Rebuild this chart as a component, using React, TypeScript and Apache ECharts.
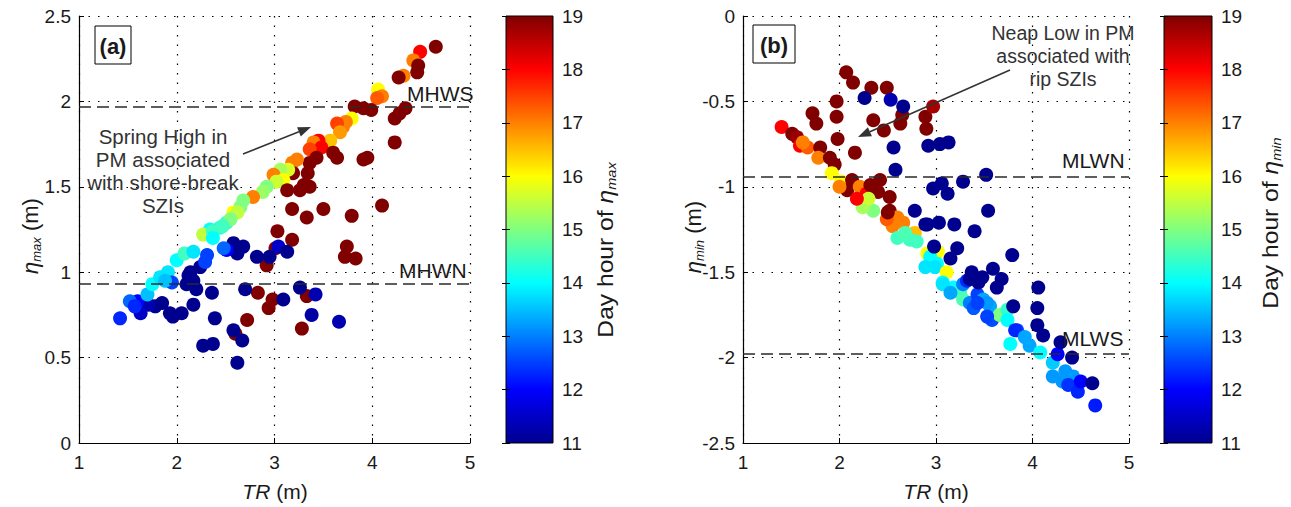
import { useEffect, useRef } from "react";
import * as echarts from "echarts";

// [TR (m), eta_max (m), day hour]
const pointsA: number[][] = [
  [4.65, 2.32, 19], [4.49, 2.29, 18], [4.42, 2.24, 17], [4.47, 2.21, 19], [4.46, 2.17, 19],
  [4.32, 2.15, 17], [4.27, 2.14, 19], [4.06, 2.07, 16], [4.10, 2.03, 17], [4.05, 2.02, 17.3],
  [4.34, 1.96, 19], [4.28, 1.93, 19], [4.23, 1.90, 19], [4.23, 1.76, 19], [3.99, 1.95, 19],
  [3.91, 1.96, 19], [3.82, 1.97, 19], [3.79, 1.90, 16], [3.73, 1.88, 17], [3.70, 1.85, 17],
  [3.64, 1.87, 17.5], [3.67, 1.82, 16.8], [3.95, 1.67, 19], [3.91, 1.66, 19], [3.57, 1.77, 16.5],
  [3.45, 1.77, 18], [3.40, 1.76, 17], [3.48, 1.73, 18], [3.36, 1.72, 17.5], [3.60, 1.70, 19],
  [3.64, 1.67, 19], [3.43, 1.67, 19], [3.36, 1.64, 19], [3.34, 1.58, 19], [3.23, 1.66, 17],
  [3.18, 1.64, 17], [3.19, 1.58, 19], [3.14, 1.60, 15.7], [3.06, 1.60, 15.3], [2.99, 1.57, 17],
  [3.09, 1.54, 16], [3.02, 1.53, 15.6], [2.92, 1.50, 15], [2.88, 1.47, 15.2], [2.78, 1.44, 17],
  [2.68, 1.42, 15], [2.65, 1.38, 15], [2.58, 1.35, 16], [2.62, 1.35, 15.5], [2.51, 1.29, 14.5],
  [2.55, 1.31, 15], [2.44, 1.26, 14.2], [2.34, 1.25, 14], [2.27, 1.22, 15.5], [2.37, 1.24, 14.5],
  [2.37, 1.20, 14], [2.47, 1.27, 14.5],
  [3.13, 1.48, 19], [3.26, 1.48, 19], [3.36, 1.50, 19], [3.30, 1.51, 19], [3.18, 1.37, 19],
  [3.33, 1.32, 19], [3.50, 1.37, 19], [3.79, 1.33, 19], [4.10, 1.39, 19], [3.03, 1.24, 19],
  [3.18, 1.19, 19], [3.01, 1.14, 19], [2.92, 1.04, 19], [3.74, 1.15, 19], [3.72, 1.09, 19],
  [3.83, 1.08, 19], [2.83, 0.88, 19], [2.98, 0.84, 19], [2.94, 0.79, 19], [3.33, 0.86, 19],
  [2.72, 0.72, 19], [2.60, 0.64, 19], [3.28, 0.67, 19],
  [2.58, 1.17, 11], [2.68, 1.15, 11], [2.62, 1.11, 11], [2.51, 1.13, 12], [2.82, 1.09, 11],
  [2.95, 1.09, 11], [3.04, 1.15, 11.5], [3.13, 1.12, 11], [3.26, 0.91, 11], [3.42, 0.87, 11.3],
  [3.09, 0.84, 11], [2.70, 0.90, 11], [2.36, 0.88, 11], [2.39, 0.73, 11], [3.38, 0.75, 11.2],
  [3.66, 0.71, 11.3], [2.58, 0.66, 11], [2.67, 0.60, 11], [2.27, 0.57, 11], [2.37, 0.58, 11],
  [2.62, 0.47, 11], [2.24, 1.03, 11], [2.14, 1.00, 11], [2.10, 0.93, 11], [2.17, 0.95, 11],
  [2.20, 0.90, 11], [2.17, 0.81, 11], [1.93, 0.76, 11], [2.05, 0.76, 11], [1.96, 0.74, 11],
  [1.85, 0.82, 11], [1.78, 0.80, 11], [1.71, 0.81, 11.3], [1.63, 0.76, 11.5], [1.60, 0.83, 12],
  [1.42, 0.73, 12.3], [1.52, 0.83, 12.8], [1.57, 0.80, 12.3], [2.12, 0.98, 11],
  [1.70, 0.87, 13.5], [1.75, 0.93, 14], [1.83, 0.97, 13.8], [1.91, 1.00, 13.8], [1.95, 0.94, 12.5],
  [2.00, 1.07, 14], [2.08, 1.11, 14.5], [2.17, 1.12, 13.8], [2.31, 1.10, 12.5], [2.29, 1.06, 12.5],
  [1.88, 0.95, 13.5], [2.48, 1.14, 12.8],
];

// [TR (m), eta_min (m), day hour]
const pointsB: number[][] = [
  [2.07, -0.33, 19], [2.14, -0.39, 19], [2.33, -0.42, 19], [2.49, -0.42, 19], [1.97, -0.50, 19],
  [1.97, -0.59, 19], [1.72, -0.57, 19], [1.76, -0.63, 19], [2.35, -0.61, 19], [2.46, -0.67, 19],
  [2.65, -0.58, 19], [2.63, -0.63, 19], [2.89, -0.59, 19], [2.97, -0.53, 18.7], [2.90, -0.66, 19],
  [1.98, -0.72, 19], [2.16, -0.80, 19], [1.40, -0.65, 18], [1.51, -0.69, 19], [1.56, -0.71, 18.8],
  [1.59, -0.76, 18], [1.67, -0.77, 17.3], [1.80, -0.77, 19], [1.78, -0.83, 17], [1.90, -0.83, 19],
  [1.95, -0.87, 19], [1.92, -0.92, 16], [2.02, -0.97, 16], [2.13, -0.96, 19], [2.08, -1.02, 19],
  [2.21, -1.00, 17], [2.28, -1.04, 18], [2.32, -0.99, 19], [2.42, -0.96, 19], [2.40, -1.03, 19],
  [2.52, -1.06, 19], [2.52, -1.14, 19], [2.60, -1.18, 17], [2.66, -1.21, 17], [2.55, -1.23, 17],
  [2.49, -1.19, 17.3], [2.50, -1.15, 19], [2.78, -1.27, 16.5], [2.28, -1.10, 15], [2.35, -1.14, 15],
  [2.24, -1.12, 15.3], [2.30, -1.07, 15.6], [2.18, -1.07, 18], [2.00, -1.00, 17], [1.62, -0.74, 17],
  [2.73, -1.31, 14.5], [2.60, -1.30, 14.5], [2.80, -1.32, 14.5], [2.68, -1.27, 14.6], [2.91, -1.39, 16],
  [3.02, -1.38, 16], [2.94, -1.41, 14], [2.89, -1.47, 13.8], [3.01, -1.45, 14], [2.99, -1.47, 13.8],
  [3.11, -1.50, 16], [3.07, -1.56, 14], [3.18, -1.59, 14], [3.07, -1.57, 13.8], [3.25, -1.62, 14.5],
  [3.28, -1.66, 14.6], [3.15, -1.62, 13.3], [3.28, -1.57, 13], [3.35, -1.68, 13], [3.39, -1.71, 12.7],
  [3.43, -1.63, 12.5], [3.49, -1.66, 13.3], [3.56, -1.70, 13.3], [3.53, -1.68, 13.2], [3.58, -1.78, 12.6],
  [3.66, -1.75, 15], [3.74, -1.72, 14.4], [3.74, -1.78, 14], [3.77, -1.92, 14], [3.84, -1.84, 12.5],
  [3.82, -1.84, 12.3], [3.92, -1.88, 13.3], [3.97, -1.93, 13.3], [4.08, -1.97, 14], [4.21, -2.03, 13.6],
  [4.34, -2.08, 13.2], [4.21, -2.11, 13.2], [4.31, -2.14, 13.2], [4.42, -2.11, 13.2], [4.37, -2.16, 12.4],
  [4.47, -2.20, 12.3], [4.50, -2.14, 12], [4.65, -2.28, 12.2], [4.26, -1.98, 12], [3.53, -1.76, 12.5],
  [3.32, -1.55, 12.3], [3.43, -1.68, 12.5],
  [2.26, -0.48, 11], [2.53, -0.49, 11.3], [2.66, -0.53, 11], [2.56, -0.77, 11], [2.58, -0.90, 11],
  [2.92, -0.76, 11], [3.04, -0.75, 11], [3.13, -0.74, 11], [2.97, -1.01, 11], [3.06, -0.98, 11],
  [3.12, -1.04, 11], [3.28, -0.97, 11], [3.52, -0.93, 11], [3.54, -1.14, 11], [2.78, -1.14, 11],
  [2.91, -1.22, 11], [3.03, -1.21, 11], [3.19, -1.22, 11], [3.40, -1.26, 11], [2.98, -1.35, 11],
  [3.22, -1.36, 11], [3.15, -1.42, 11], [3.79, -1.40, 11], [3.37, -1.50, 11], [3.48, -1.53, 11],
  [3.59, -1.48, 11], [3.68, -1.54, 11], [3.63, -1.59, 11], [4.06, -1.59, 11], [4.05, -1.71, 11],
  [3.80, -1.70, 11], [4.05, -1.81, 11], [4.11, -1.87, 11], [4.29, -1.91, 11], [4.41, -2.00, 11],
  [4.62, -2.15, 11], [3.44, -1.56, 11], [3.35, -1.54, 11], [2.89, -1.22, 11],
];

const trRange = [1, 5];
const etaMaxRange = [0, 2.5];
const etaMinRange = [-2.5, 0];
const hourRange = [11, 19];
const levelNamesA = ["MHWS", "MHWN"];
const levelValuesA = [1.967, 0.93];
const levelNamesB = ["MLWN", "MLWS"];
const levelValuesB = [-0.937, -1.98];
const noteA = ["Spring High in", "PM associated", "with shore-break", "SZIs"];
const noteB = ["Neap Low in PM", "associated with", "rip SZIs"];

const jet = ["#00008F", "#0000FF", "#0080FF", "#00FFFF", "#80FF80", "#FFFF00", "#FF8000", "#FF0000", "#800000"];

const FONT = "'Liberation Sans', Arial, Helvetica, sans-serif";
const TXT = "#1a1a1a";

function arrow(x1: number, y1: number, x2: number, y2: number) {
  const dx = x2 - x1, dy = y2 - y1;
  const len = Math.sqrt(dx * dx + dy * dy);
  const ux = dx / len, uy = dy / len;
  const bx = x2 - 13 * ux, by = y2 - 13 * uy;
  const nx = -uy, ny = ux;
  return [
    { type: "line", shape: { x1, y1, x2: bx, y2: by }, style: { stroke: "#333", lineWidth: 1.5 }, z: 50 },
    {
      type: "polygon",
      shape: { points: [[x2, y2], [bx + 5 * nx, by + 5 * ny], [bx - 5 * nx, by - 5 * ny]] },
      style: { fill: "#333" },
      z: 50,
    },
  ];
}

function panelAxes(gridIndex: number, yr: number[]) {
  const common = {
    gridIndex,
    type: "value",
    axisLine: { show: true, onZero: false, lineStyle: { color: "#000", width: 1.2 } },
    axisTick: { show: true, inside: true, length: 5, lineStyle: { color: "#000" } },
    splitLine: { show: true, lineStyle: { color: "#000", type: [1.5, 8], width: 1.2 } },
    axisLabel: { color: TXT, fontSize: 19, fontFamily: FONT },
  };
  return {
    x: { ...common, min: trRange[0], max: trRange[1], interval: 1, axisLabel: { ...common.axisLabel, margin: 10 } },
    y: { ...common, min: yr[0], max: yr[1], interval: 0.5, axisLabel: { ...common.axisLabel, margin: 8 } },
  };
}

function cbAxes(gridIndex: number) {
  const base = {
    gridIndex,
    type: "value",
    min: hourRange[0],
    max: hourRange[1],
    interval: 1,
    axisLine: { show: false },
    axisTick: { show: true, inside: true, length: 4, lineStyle: { color: "#000" } },
    splitLine: { show: false },
  };
  return [
    { ...base, position: "right", axisLabel: { color: TXT, fontSize: 19, fontFamily: FONT, margin: 9 } },
    { ...base, position: "left", axisLabel: { show: false } },
  ];
}

function levelLine(names: string[], values: number[]) {
  return {
    silent: true,
    symbol: ["none", "none"],
    label: { show: false },
    lineStyle: { color: "#2a2a2a", type: [12, 6], width: 1.6 },
    data: values.map((v, i) => ({ name: names[i], yAxis: v })),
  };
}

function vText(x: number, y: number, rich: string, scale = 1) {
  return {
    type: "text",
    x,
    y,
    rotation: Math.PI / 2,
    scaleX: scale,
    z: 50,
    style: {
      text: rich,
      align: "center",
      verticalAlign: "middle",
      fill: TXT,
      font: `22px ${FONT}`,
      rich: {
        n: { fontSize: 22, fontFamily: FONT, fill: TXT, lineHeight: 26 },
        e: { fontSize: 22, fontFamily: FONT, fontStyle: "italic", fill: TXT, lineHeight: 26 },
        s: { fontSize: 13, fontFamily: FONT, fontStyle: "italic", fill: TXT, lineHeight: 26, verticalAlign: "bottom" },
      },
    },
  };
}

export default function App() {
  const ref = useRef<HTMLDivElement>(null);
  useEffect(() => {
    if (!ref.current) return;
    const chart = echarts.init(ref.current, undefined, { renderer: "svg" });
    const a = panelAxes(0, etaMaxRange);
    const b = panelAxes(1, etaMinRange);
    const cbA = cbAxes(2);
    const cbB = cbAxes(3);
    const cbStops = jet.map((c, i) => ({ offset: i / (jet.length - 1), color: c }));
    const hidX = (g: number) => ({ gridIndex: g, type: "value", show: false, min: 0, max: 1 });

    const noteText = (x: number, y: number, lines: string[], size: number) => ({
      type: "text",
      x,
      y,
      z: 50,
      style: {
        text: lines.join("\n"),
        align: "center",
        verticalAlign: "top",
        fill: "#333",
        font: `${size}px ${FONT}`,
        lineHeight: 23,
      },
    });
    const lvlText = (x: number, y: number, t: string) => ({
      type: "text",
      x,
      y,
      z: 50,
      style: { text: t, align: "left", verticalAlign: "bottom", fill: TXT, font: `21px ${FONT}` },
    });
    const panelLabel = (x: number, y: number, w: number, h: number, t: string) => [
      { type: "rect", shape: { x, y, width: w, height: h }, style: { fill: "#fff", stroke: "#000", lineWidth: 1 }, z: 40 },
      {
        type: "text",
        x: x + w / 2,
        y: y + h / 2 + 1,
        z: 41,
        style: { text: t, align: "center", verticalAlign: "middle", fill: TXT, font: `bold 22px ${FONT}` },
      },
    ];
    const xName = (x: number) => ({
      type: "text",
      x,
      y: 491,
      z: 50,
      style: {
        text: "{e|TR}{n| (m)}",
        align: "center",
        verticalAlign: "middle",
        rich: {
          n: { fontSize: 21, fontFamily: FONT, fill: TXT },
          e: { fontSize: 21, fontFamily: FONT, fontStyle: "italic", fill: TXT },
        },
      },
    });

    chart.setOption({
      animation: false,
      backgroundColor: "#fff",
      grid: [
        { left: 79, top: 16, width: 391, height: 427 },
        { left: 743, top: 16, width: 386, height: 427 },
        { left: 506, top: 16, width: 47, height: 427 },
        { left: 1164, top: 16, width: 48, height: 427 },
      ],
      xAxis: [a.x, b.x, hidX(2), hidX(3)],
      yAxis: [a.y, b.y, ...cbA, ...cbB],
      visualMap: [
        { type: "continuous", show: false, seriesIndex: 0, dimension: 2, min: hourRange[0], max: hourRange[1], inRange: { color: jet } },
        { type: "continuous", show: false, seriesIndex: 1, dimension: 2, min: hourRange[0], max: hourRange[1], inRange: { color: jet } },
      ],
      series: [
        {
          type: "scatter",
          xAxisIndex: 0,
          yAxisIndex: 0,
          data: pointsA,
          symbolSize: 14,
          itemStyle: { opacity: 1 },
          markLine: levelLine(levelNamesA, levelValuesA),
        },
        {
          type: "scatter",
          xAxisIndex: 1,
          yAxisIndex: 1,
          data: pointsB,
          symbolSize: 14,
          itemStyle: { opacity: 1 },
          markLine: levelLine(levelNamesB, levelValuesB),
        },
      ],
      graphic: [
        {
          type: "rect",
          z: -1,
          shape: { x: 506, y: 16, width: 47, height: 427 },
          style: { fill: new echarts.graphic.LinearGradient(0, 1, 0, 0, cbStops), stroke: "#000", lineWidth: 1 },
        },
        {
          type: "rect",
          z: -1,
          shape: { x: 1164, y: 16, width: 48, height: 427 },
          style: { fill: new echarts.graphic.LinearGradient(0, 1, 0, 0, cbStops), stroke: "#000", lineWidth: 1 },
        },
        ...panelLabel(95, 26, 36, 38, "(a)"),
        ...panelLabel(753, 25, 42, 38, "(b)"),
        noteText(163, 125, noteA, 20.5),
        noteText(1063, 21, noteB, 19.5),
        ...arrow(243, 154, 311, 127),
        ...arrow(1010, 70, 858, 137),
        lvlText(407, 104, levelNamesA[0]),
        lvlText(399, 281, levelNamesA[1]),
        lvlText(1062, 171, levelNamesB[0]),
        lvlText(1062, 349, levelNamesB[1]),
        vText(30, 236, "{e|η}{s|max}{n| (m)}"),
        vText(693, 237, "{e|η}{s|min}{n| (m)}"),
        vText(605, 250, "{n|Day hour of }{e|η}{s|max}", 1.12),
        vText(1270, 223, "{n|Day hour of }{e|η}{s|min}", 1.12),
        xName(275),
        xName(936),
      ],
    });
    return () => chart.dispose();
  }, []);
  return <div ref={ref} style={{ position: "absolute", left: 0, top: 0, width: 1291, height: 507, background: "#fff" }} />;
}
